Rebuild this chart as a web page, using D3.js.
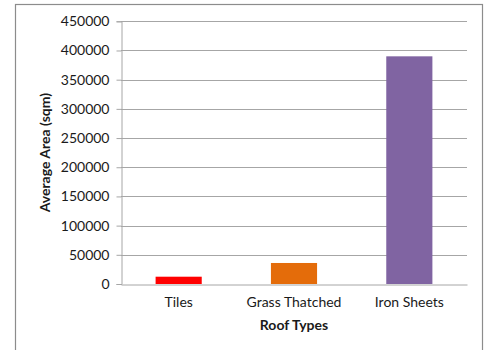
<!DOCTYPE html>
<html>
<head>
<meta charset="utf-8">
<script src="https://cdn.jsdelivr.net/npm/d3@7"></script>
<style>
  html, body { margin: 0; padding: 0; background: #fff; }
  svg { display: block; }
  text { font-family: Lato, "Open Sans", "DejaVu Sans", sans-serif; fill: #1a1a1a; }
</style>
</head>
<body>
<svg id="chart" width="484" height="350"></svg>
<script>
// Average area per roof type
const roofTypes = ["Tiles", "Grass Thatched", "Iron Sheets"];
const averageArea = [12500, 36000, 390000];
const barColors = ["#ff0000", "#e46c0a", "#8064a2"];
const yTicks = [0, 50000, 100000, 150000, 200000, 250000, 300000, 350000, 400000, 450000];

const svg = d3.select("#chart");

// outer chart frame (runs off the bottom edge)
svg.append("rect")
  .attr("x", 15.5).attr("y", 4.5)
  .attr("width", 467).attr("height", 360)
  .attr("fill", "none").attr("stroke", "#8c8c8c").attr("stroke-width", 1.2);

const plot = { left: 121, right: 467, top: 21.3, bottom: 284 };

const x = d3.scaleBand()
  .domain(roofTypes)
  .range([plot.left, plot.right])
  .paddingInner(0.6)
  .paddingOuter(0.3);

const y = d3.scaleLinear()
  .domain([0, 450000])
  .range([plot.bottom, plot.top]);

// horizontal gridlines
svg.append("g")
  .selectAll("line")
  .data(yTicks.filter(d => d > 0))
  .join("line")
  .attr("x1", plot.left).attr("x2", plot.right)
  .attr("y1", d => Math.round(y(d)) + 0.5).attr("y2", d => Math.round(y(d)) + 0.5)
  .attr("stroke", "#a6a6a6").attr("stroke-width", 1);

// y axis
const yAxis = svg.append("g")
  .attr("transform", `translate(${plot.left + 0.5},0)`)
  .call(d3.axisLeft(y).tickValues(yTicks).tickFormat(d3.format("d")).tickSize(5).tickPadding(7));
yAxis.select(".domain").attr("stroke", "#a6a6a6");
yAxis.selectAll(".tick line").attr("stroke", "#a6a6a6");
yAxis.selectAll(".tick text")
  .style("font-size", "14px")
  .style("font-family", "Lato, 'Open Sans', sans-serif")
  .attr("fill", "#1a1a1a");

// bars
svg.append("g")
  .selectAll("rect")
  .data(roofTypes.map((c, i) => ({ c, v: averageArea[i], color: barColors[i] })))
  .join("rect")
  .attr("x", d => x(d.c))
  .attr("y", d => y(d.v))
  .attr("width", x.bandwidth())
  .attr("height", d => y(0) - y(d.v))
  .attr("fill", d => d.color);

// x axis baseline and category labels
const xAxis = svg.append("g")
  .attr("transform", `translate(0,${plot.bottom + 0.5})`)
  .call(d3.axisBottom(x).tickSize(0).tickPadding(13));
xAxis.select(".domain").attr("stroke", "#a6a6a6");
xAxis.selectAll(".tick text")
  .style("font-size", "14px")
  .style("font-family", "Lato, 'Open Sans', sans-serif")
  .attr("fill", "#1a1a1a");

// axis titles
svg.append("text")
  .attr("x", (plot.left + plot.right) / 2)
  .attr("y", 330)
  .attr("text-anchor", "middle")
  .style("font-size", "14px")
  .style("font-weight", "bold")
  .text("Roof Types");

svg.append("text")
  .attr("transform", `translate(50,${(plot.top + plot.bottom) / 2}) rotate(-90)`)
  .attr("text-anchor", "middle")
  .style("font-size", "14px")
  .style("font-weight", "bold")
  .text("Average Area (sqm)");
</script>
</body>
</html>
